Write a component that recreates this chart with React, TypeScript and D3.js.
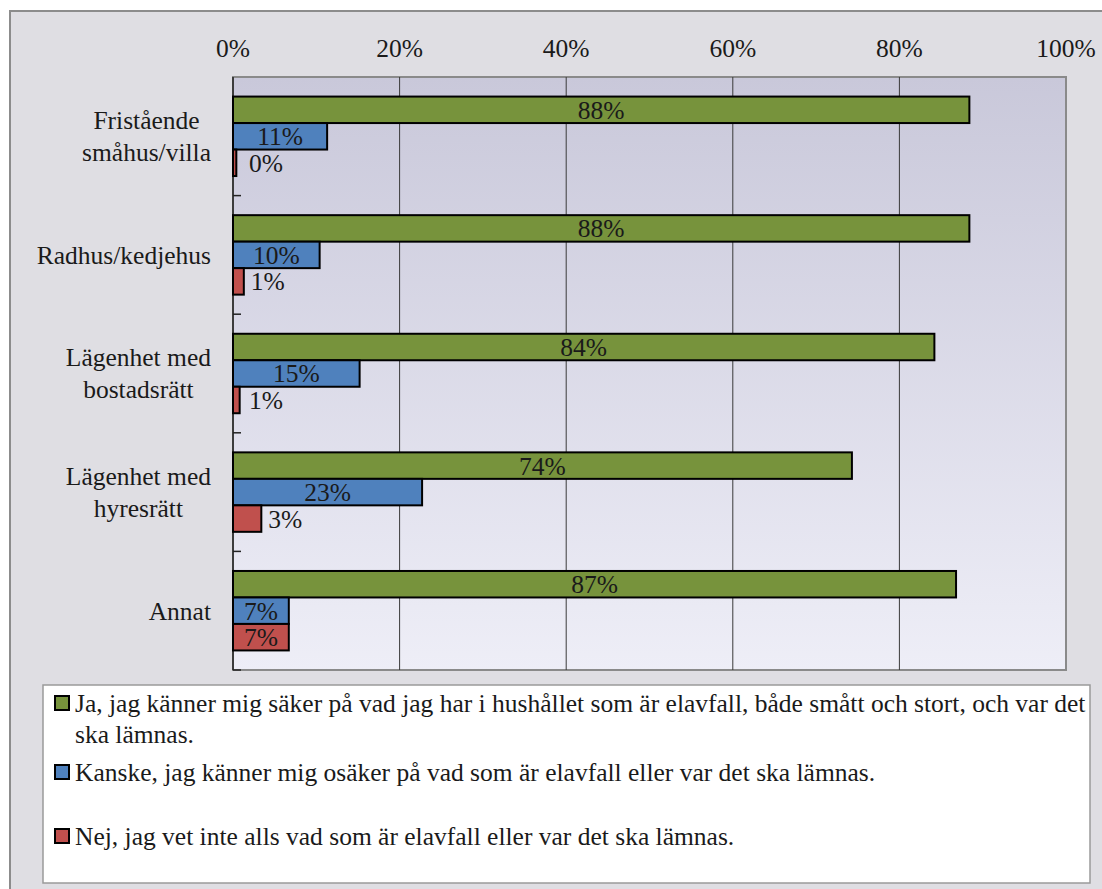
import React from "react";
import * as d3 from "d3";

const categories = ["Fristående\nsmåhus/villa", "Radhus/kedjehus", "Lägenhet med\nbostadsrätt", "Lägenhet med\nhyresrätt", "Annat"];
const seriesNames = ["Ja", "Kanske", "Nej"];
const jaValues = [88.4, 88.4, 84.2, 74.3, 86.8];
const kanskeValues = [11.3, 10.4, 15.2, 22.7, 6.7];
const nejValues = [0.4, 1.3, 0.8, 3.4, 6.7];
const xTicks = [0, 20, 40, 60, 80, 100];
const legendLabels = [
  ["Ja, jag känner mig säker på vad jag har i hushållet som är elavfall, både smått och stort, och var det", "ska lämnas."],
  ["Kanske, jag känner mig osäker på vad som är elavfall eller var det ska lämnas."],
  ["Nej, jag vet inte alls vad som är elavfall eller var det ska lämnas."],
];
const colors = ["#77933C", "#4F81BD", "#C0504D"];

const FONT = "'Liberation Serif'";
const FS = 25.5;
const TEXT_COLOR = "#1a1a1a";

let ctx: CanvasRenderingContext2D | null = null;
function measure(s: string): number {
  if (!ctx) {
    const c = document.createElement("canvas");
    ctx = c.getContext("2d");
  }
  if (!ctx) return s.length * FS * 0.45;
  ctx.font = `${FS}px ${FONT}`;
  return ctx.measureText(s).width;
}

const tStyle: React.CSSProperties = { fontFamily: FONT, fontSize: FS };

export default function App() {
  if (typeof document !== "undefined") document.body.style.margin = "0";
  const left = 233, right = 1066, top = 77, bottom = 670;
  const x = d3.scaleLinear().domain([0, 100]).range([left, right]);
  const y0 = d3.scaleBand<string>().domain(categories).range([top, bottom]).paddingInner(0.33).paddingOuter(0.165);
  const y1 = d3.scaleBand<string>().domain(seriesNames).range([0, y0.bandwidth()]);
  const step = y0.step();
  const tickYs = categories.map((_, i) => top + step * (i + 1));
  const seriesData = [jaValues, kanskeValues, nejValues];
  const legendYs = [703, 772, 836];

  return (
    <svg width={1102} height={889} style={{ display: "block" }}>
      <defs>
        <linearGradient id="plotGrad" x1="0" y1="0" x2="0" y2="1">
          <stop offset="0%" stopColor="#C9C8DA" />
          <stop offset="100%" stopColor="#EEEEF7" />
        </linearGradient>
      </defs>
      <rect x={0} y={0} width={1102} height={889} fill="#fff" />
      <rect x={10} y={11} width={1100} height={890} fill="#DFDEE3" stroke="#8c8c8c" strokeWidth={2} />
      <rect x={left} y={top} width={right - left} height={bottom - top} fill="url(#plotGrad)" stroke="#8a8a8a" strokeWidth={2} />
      {xTicks.filter(t => t > 0 && t < 100).map(t => (
        <line key={t} x1={x(t)} x2={x(t)} y1={top} y2={bottom} stroke="#3a3a3a" strokeWidth={1} />
      ))}
      {xTicks.map(t => (
        <text key={"t" + t} x={x(t)} y={57} textAnchor="middle" style={tStyle} fill={TEXT_COLOR}>{t + "%"}</text>
      ))}
      <line x1={left} x2={left} y1={top} y2={bottom} stroke="#222" strokeWidth={1.5} />
      {tickYs.map((ty, i) => (
        <line key={"yt" + i} x1={left} x2={left + 8} y1={ty} y2={ty} stroke="#222" strokeWidth={1.5} />
      ))}
      {seriesData.map((vals, si) => (
        <g key={"s" + si}>
          {vals.map((v, ci) => {
            const yy = (y0(categories[ci]) as number) + (y1(seriesNames[si]) as number);
            const h = y1.bandwidth();
            const w = x(v) - x(0);
            const label = Math.round(v) + "%";
            const tw = measure(label);
            const inside = w > tw + 8;
            return (
              <g key={ci}>
                <rect x={x(0)} y={yy} width={w} height={h} fill={colors[si]} stroke="#000" strokeWidth={2} />
                <text x={inside ? x(0) + w / 2 : Math.max(x(v) + 7, left + 16)} y={yy + h / 2} dy="0.35em"
                  textAnchor={inside ? "middle" : "start"} style={tStyle} fill={TEXT_COLOR}>{label}</text>
              </g>
            );
          })}
        </g>
      ))}
      {categories.map(c => {
        const lines = c.split("\n");
        const cy = (y0(c) as number) + y0.bandwidth() / 2;
        const maxW = Math.max(...lines.map(measure));
        return (
          <g key={c}>
            {lines.map((ln, i) => (
              <text key={i} x={211 - maxW / 2} y={cy + (i - (lines.length - 1) / 2) * 32} dy="0.35em"
                textAnchor="middle" style={tStyle} fill={TEXT_COLOR}>{ln}</text>
            ))}
          </g>
        );
      })}
      <rect x={43} y={685} width={1047} height={198} fill="#fff" stroke="#9a9a9a" strokeWidth={1.5} />
      {legendLabels.map((lines, i) => (
        <g key={"l" + i}>
          <rect x={55} y={legendYs[i] - 7} width={14} height={14} fill={colors[i]} stroke="#000" strokeWidth={2} />
          {lines.map((ln, j) => (
            <text key={j} x={75} y={legendYs[i] + j * 31} dy="0.35em" style={tStyle} fill={TEXT_COLOR}>{ln}</text>
          ))}
        </g>
      ))}
    </svg>
  );
}
